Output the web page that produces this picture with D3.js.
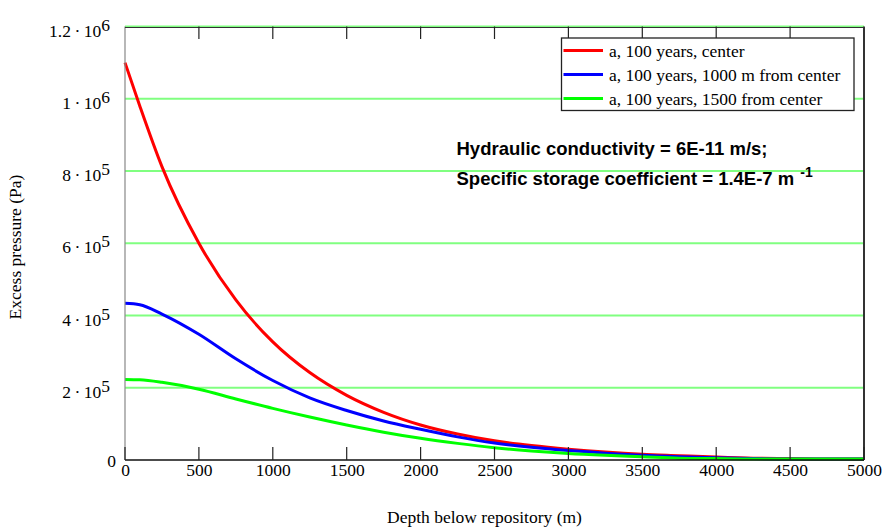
<!DOCTYPE html>
<html><head><meta charset="utf-8">
<script src="https://cdn.jsdelivr.net/npm/d3@7"></script>
<style>body{margin:0;background:#fff}svg{display:block}</style>
</head><body><svg id="c" width="884" height="528"></svg>
<script>
// depth below repository (m)
const depths = [0,100,250,500,750,1000,1250,1500,1750,2000,2250,2500,2750,3000,3250,3500,3750,4000,4250,4500,4750,5000];
// excess pressure (Pa)
const centerVals = [1100000,980000,812000,600000,443000,327000,242000,179000,132000,97000,72000,53000,40000,30000,22000,16000,12000,8000,5000,4000,3000,3000];
const m1000Vals  = [434000,430000,404000,348000,280000,220000,172000,137000,108000,85000,64000,47000,35000,26000,19000,13000,9000,6000,4000,3000,3000,3000];
const m1500Vals  = [223000,222000,215000,196000,169000,143000,119000,97000,77000,60000,46000,34000,25000,18000,13000,9000,5000,4000,3000,3000,3000,3000];
const seriesNames = ["a, 100 years, center","a, 100 years, 1000 m from center","a, 100 years, 1500 from center"];
const seriesColors = ["#ff0000","#0000ff","#00ff00"];
const xTicks = [0,500,1000,1500,2000,2500,3000,3500,4000,4500,5000];
const yTicks = [0,200000,400000,600000,800000,1000000,1200000];
const yMantissa = ["0","2","4","6","8","1","1.2"];
const yExponent = ["","5","5","5","5","6","6"];
const note1 = "Hydraulic conductivity = 6E-11 m/s;";
const note2 = "Specific storage coefficient = 1.4E-7 m";
const note2sup = "-1";

const svg = d3.select("#c");
const L=125, R=864, T=26.5, B=460;
const x = d3.scaleLinear().domain([0,5000]).range([L,R]);
const y = d3.scaleLinear().domain([0,1200000]).range([B,T]);
const serif = "'Liberation Serif','Times New Roman',serif";

// grid
svg.append("g").selectAll("line").data(yTicks.filter(d=>d>0)).join("line")
  .attr("x1",L).attr("x2",R).attr("y1",d=>y(d)).attr("y2",d=>y(d))
  .attr("stroke","#80ff80").attr("stroke-width",2);

// curves
const allSeries = [centerVals,m1000Vals,m1500Vals];
const line = d3.line().x((d,i)=>x(depths[i])).y(d=>y(d)).curve(d3.curveMonotoneX);
allSeries.forEach((vals,k)=>{
  svg.append("path").datum(vals).attr("d",line).attr("fill","none")
    .attr("stroke",seriesColors[k]).attr("stroke-width",3);
});

// frame
svg.append("line").attr("x1",L).attr("x2",L).attr("y1",T).attr("y2",B).attr("stroke","#888").attr("stroke-width",1.2);
svg.append("line").attr("x1",L).attr("x2",R).attr("y1",T+1).attr("y2",T+1).attr("stroke","#333").attr("stroke-width",1.2);
svg.append("line").attr("x1",R).attr("x2",R).attr("y1",T).attr("y2",B).attr("stroke","#333").attr("stroke-width",2);
svg.append("line").attr("x1",L).attr("x2",R).attr("y1",B).attr("y2",B).attr("stroke","#111").attr("stroke-width",1.5);

// ticks top and bottom
svg.append("g").selectAll("line").data(xTicks).join("line")
  .attr("x1",d=>x(d)).attr("x2",d=>x(d)).attr("y1",B).attr("y2",B-13)
  .attr("stroke","#222").attr("stroke-width",1.2);
svg.append("g").selectAll("line").data(xTicks.slice(1,-1)).join("line")
  .attr("x1",d=>x(d)).attr("x2",d=>x(d)).attr("y1",T).attr("y2",T+12.5)
  .attr("stroke","#222").attr("stroke-width",1.2);

// x axis labels
const xa = svg.append("g").attr("transform",`translate(0,${B})`)
  .call(d3.axisBottom(x).tickValues(xTicks).tickSize(0).tickPadding(0).tickFormat(d3.format("d")));
xa.select(".domain").remove();
xa.selectAll("text").attr("font-family",serif).attr("font-size",17.5).attr("fill","#000")
  .attr("dy",null).attr("y",15.5);

// y axis labels
const ya = svg.append("g").attr("transform",`translate(110,0)`)
  .call(d3.axisLeft(y).tickValues(yTicks).tickSize(0).tickPadding(0).tickFormat(""));
ya.select(".domain").remove();
ya.selectAll(".tick text").each(function(d,i){
  const t = d3.select(this).attr("font-family",serif).attr("font-size",17.5).attr("fill","#000")
    .attr("dy",null).attr("x",i===0?6:0).attr("y",i===0?6.5:9.5).attr("text-anchor","end").text(null);
  if(yExponent[i]===""){ t.text(yMantissa[i]); }
  else {
    t.append("tspan").text(yMantissa[i]+"\u2009\u00B7\u200910");
    t.append("tspan").attr("dy",-6).text(yExponent[i]);
  }
});

// axis titles
svg.append("text").attr("x",(L+R)/2-10).attr("y",523).attr("text-anchor","middle")
  .attr("font-family",serif).attr("font-size",17.5).text("Depth below repository (m)");
svg.append("text").attr("transform","translate(21,247) rotate(-90)").attr("text-anchor","middle")
  .attr("font-family",serif).attr("font-size",17.5).text("Excess pressure (Pa)");

// legend
const lg = svg.append("g");
lg.append("rect").attr("x",561.5).attr("y",38).attr("width",292.5).attr("height",72.5)
  .attr("fill","#fff").attr("stroke","#222").attr("stroke-width",1.3);
seriesNames.forEach((n,k)=>{
  const yy = 50.5 + k*24;
  lg.append("line").attr("x1",563.5).attr("x2",603).attr("y1",yy).attr("y2",yy)
    .attr("stroke",seriesColors[k]).attr("stroke-width",3);
  lg.append("text").attr("x",609).attr("y",yy+6.5).attr("font-family",serif).attr("font-size",17.5).text(n);
});

// annotation
const sans = "'Liberation Sans',Arial,sans-serif";
svg.append("text").attr("x",456.5).attr("y",155).attr("font-family",sans).attr("font-weight","bold")
  .attr("font-size",18.5).text(note1);
const t2 = svg.append("text").attr("x",456.5).attr("y",185).attr("font-family",sans).attr("font-weight","bold")
  .attr("font-size",18.5);
t2.append("tspan").text(note2);
t2.append("tspan").attr("dx",6).attr("dy",-8).attr("font-size",14).text(note2sup);
</script></body></html>
